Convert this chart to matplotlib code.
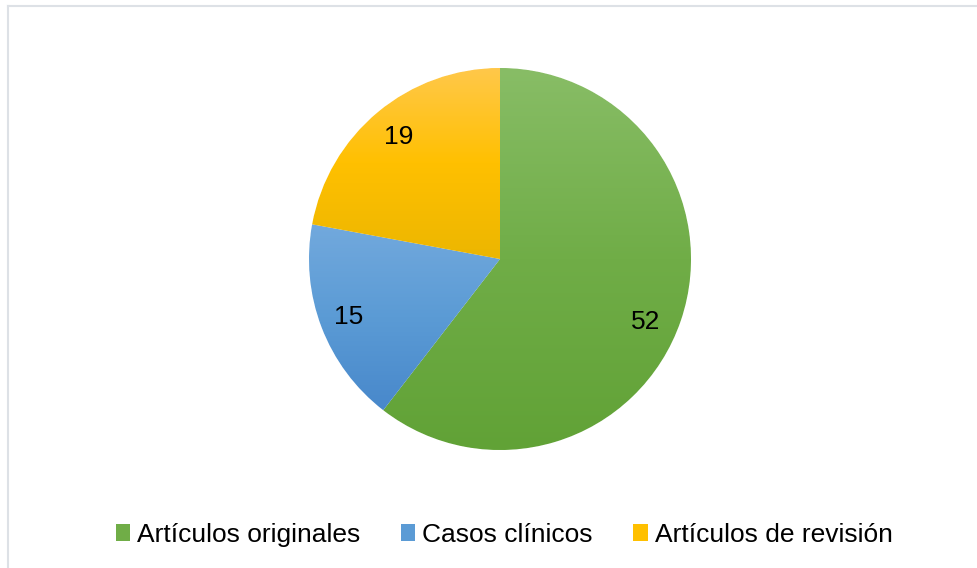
import numpy as np
import matplotlib
matplotlib.use("Agg")
import matplotlib.pyplot as plt
from matplotlib.colors import LinearSegmentedColormap
from matplotlib.patches import Patch
from matplotlib.lines import Line2D

plt.rcParams['font.family'] = ['Liberation Sans', 'DejaVu Sans']

categories = ["Artículos originales", "Casos clínicos", "Artículos de revisión"]
values = [52, 15, 19]
# top / middle / bottom shades of each slice's vertical gradient
shades = [
    ("#88bd66", "#70ad47", "#61a236"),
    ("#72a9dd", "#5b9bd5", "#4888cb"),
    ("#ffc84a", "#ffc000", "#ecb600"),
]
# small pixel nudges for the value labels (best-fit placement)
label_nudge = [(-6, -11), (-2, -1), (1, -1)]

W, H, DPI = 978, 568, 100
fig = plt.figure(figsize=(W / DPI, H / DPI), dpi=DPI)
fig.patch.set_facecolor("white")

# pie placement in pixels
cx, cy, r = 500, 259, 191
ax = fig.add_axes([(cx - r) / W, 1 - (cy + r) / H, 2 * r / W, 2 * r / H])

wedges, _ = ax.pie(values, startangle=90, counterclock=False, radius=1,
                   colors=[s[1] for s in shades],
                   wedgeprops=dict(edgecolor="white", linewidth=0.8))

# gradient fill clipped to each wedge
for w, sh in zip(wedges, shades):
    cmap = LinearSegmentedColormap.from_list("g", list(sh))
    bb = w.get_path().get_extents(w.get_patch_transform())
    grad = np.linspace(0, 1, 256).reshape(-1, 1)
    im = ax.imshow(grad, cmap=cmap, aspect="auto", origin="upper",
                   extent=(bb.x0, bb.x1, bb.y0, bb.y1), zorder=1.5)
    im.set_clip_path(w)
    w.set_zorder(0)

# value labels
total = sum(values)
start = 90.0
for v, (dx, dy) in zip(values, label_nudge):
    span = 360.0 * v / total
    mid = np.deg2rad(start - span / 2)
    ax.annotate(str(v), (0.84 * np.cos(mid), 0.84 * np.sin(mid)),
                xytext=(dx * 0.72, dy * 0.72), textcoords="offset points",
                ha="center", va="center", fontsize=19, color="black", zorder=5)
    start -= span

ax.set_xlim(-1, 1)
ax.set_ylim(-1, 1)
ax.set_aspect("auto")
ax.axis("off")

handles = [Patch(facecolor=s[1], edgecolor="none") for s in shades]
fig.legend(handles, categories, loc="center", bbox_to_anchor=(504 / W, 1 - 535 / H),
           ncol=3, frameon=False, fontsize=19, handlelength=0.55, handleheight=0.58,
           handletextpad=0.25, columnspacing=1.55, borderpad=0)

# chart-area outline (top and left edges)
lc = "#dde1e6"
fig.add_artist(Line2D([8.3 / W, 1], [1 - 6 / H, 1 - 6 / H], color=lc, lw=1.5,
                      transform=fig.transFigure))
fig.add_artist(Line2D([8.3 / W, 8.3 / W], [0, 1 - 6 / H], color=lc, lw=1.5,
                      transform=fig.transFigure))

fig.savefig("out.png", dpi=DPI, facecolor="white")
